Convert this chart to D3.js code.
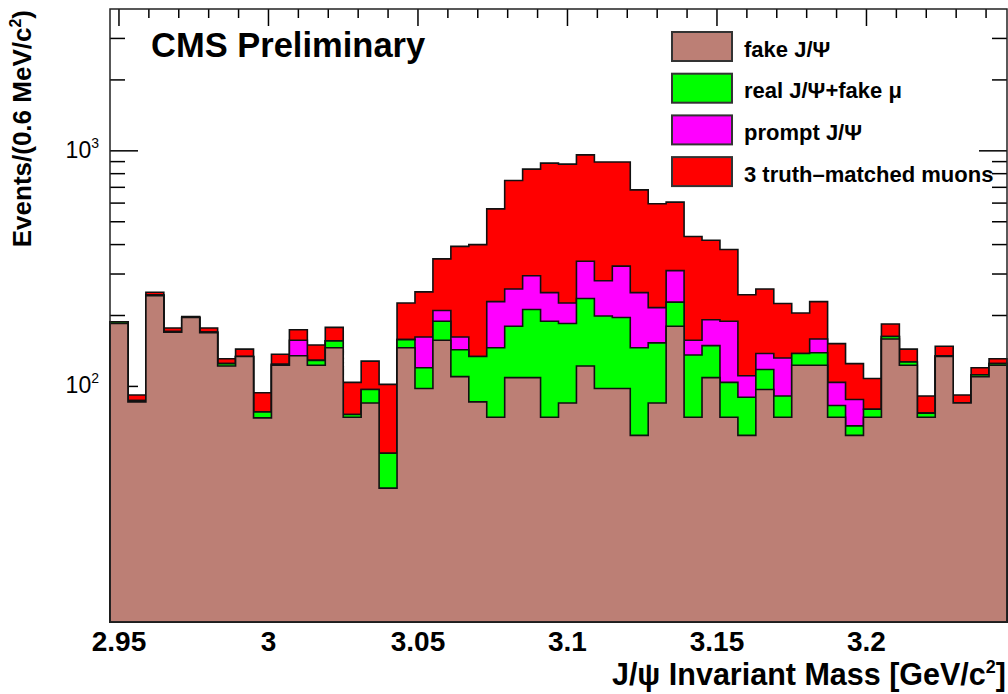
<!DOCTYPE html>
<html>
<head>
<meta charset="utf-8">
<script src="https://cdn.jsdelivr.net/npm/d3@7"></script>
<style>
  body { margin: 0; background: white; }
  text { font-family: 'Liberation Sans', Arial, Helvetica, sans-serif; }
</style>
</head>
<body>
<div id="visualization"></div>
<script>
// histogram binning: 50 bins of 6 MeV starting at 2.947 GeV
let xMin = 2.947
let binWidth = 0.006

// events per bin, one array per component (bottom of the stack first)
let fakeJpsi = [185, 86, 243, 170, 196, 169, 122, 134, 73.5, 123,
  135, 123, 146, 74, 85, 37, 146, 98, 157, 110,
  86, 74, 109, 109, 74, 85, 122, 98, 98, 62,
  85, 180, 74, 109, 74, 62, 97, 74, 123, 123,
  74, 62, 74, 159, 123, 74, 134, 85, 110, 123]
let realJpsiFakeMu = [3, 1, 1, 1, 0, 1, 3, 0, 4.5, 1,
  0, 6, 10, 2, 12, 15, 12, 22, 32, 33,
  48, 72, 71, 103, 115, 100, 114, 101, 98, 84,
  68, 48, 62, 40, 30, 28, 21, 17, 15, 16,
  9, 6, 6, 4, 4, 3, 1, 0, 2, 2]
let promptJpsi = [0, 0, 0, 0, 0, 0, 0, 0, 0, 0,
  22, 0, 0, 0, 0, 0, 0, 42, 21, 19,
  0, 83, 79, 83, 61, 41, 104, 82, 128, 104,
  63, 82, 21, 43, 85, 21, 20, 41, 0, 20,
  21, 20, 0, 0, 0, 0, 0, 0, 0, 0]
let truthMatched = [0, 5, 7, 6, 2, 7, 6, 10, 16, 13,
  17, 21, 22, 28, 31, 50, 68, 90, 138, 231,
  266, 338, 489, 541, 637, 652, 621, 615, 572, 433,
  380, 296, 276, 225, 192, 134, 121, 93, 67, 70,
  48, 37, 28, 21, 17, 14, 13, 7, 8, 6]

let seriesNames = ['fake J/\u03A8', 'real J/\u03A8+fake \u03BC', 'prompt J/\u03A8', '3 truth\u2013matched muons']
let seriesColors = ['#bc7f75', '#00ff00', '#ff00ff', '#ff0000']

let xTicks = [2.95, 3, 3.05, 3.1, 3.15, 3.2]
let xTickLabels = ['2.95', '3', '3.05', '3.1', '3.15', '3.2']
let yMajorTicks = [100, 1000]
let yTickExponents = ['2', '3']
let yMinorTicks = [20, 30, 40, 50, 60, 70, 80, 90, 200, 300, 400, 500, 600, 700, 800, 900, 2000, 3000]

let svgWidth = 1008
let svgHeight = 694
let plotLeft = 110, plotRight = 1007, plotTop = 9, plotBottom = 622

let svg = d3.select('#visualization').append('svg')
  .attr('width', svgWidth)
  .attr('height', svgHeight)

let x = d3.scaleLinear()
  .domain([xMin, xMin + binWidth * fakeJpsi.length])
  .range([plotLeft, plotRight])
let y = d3.scaleLog()
  .domain([10, 4000])
  .range([plotBottom, plotTop])

// ticks (drawn first so the histograms cover them, like in the original)
let xMinor = d3.range(295, 325).map(v => v / 100)
let ticks = svg.append('g').attr('stroke', 'black').attr('stroke-width', 1.5)
xMinor.forEach(v => {
  let major = xTicks.some(t => Math.abs(t - v) < 1e-6)
  let len = major ? 17 : 9
  ticks.append('line').attr('x1', x(v)).attr('x2', x(v)).attr('y1', plotTop).attr('y2', plotTop + len)
  ticks.append('line').attr('x1', x(v)).attr('x2', x(v)).attr('y1', plotBottom).attr('y2', plotBottom - len)
})
yMajorTicks.concat(yMinorTicks).forEach(v => {
  let len = yMajorTicks.includes(v) ? 28 : 15
  ticks.append('line').attr('x1', plotLeft).attr('x2', plotLeft + len).attr('y1', y(v)).attr('y2', y(v))
  ticks.append('line').attr('x1', plotRight).attr('x2', plotRight - len).attr('y1', y(v)).attr('y2', y(v))
})

// stacked histograms, cumulative, largest drawn first
let components = [fakeJpsi, realJpsiFakeMu, promptJpsi, truthMatched]
let cumulative = []
components.forEach((arr, k) => {
  cumulative.push(arr.map((v, i) => v + (k > 0 ? cumulative[k - 1][i] : 0)))
})

let area = d3.area()
  .x(d => x(d.x))
  .y0(plotBottom)
  .y1(d => y(d.v))
  .curve(d3.curveStepAfter)

for (let k = cumulative.length - 1; k >= 0; k--) {
  let c = cumulative[k]
  let pts = c.map((v, i) => ({ x: xMin + i * binWidth, v: v }))
  pts.push({ x: xMin + c.length * binWidth, v: c[c.length - 1] })
  svg.append('path')
    .attr('d', area(pts))
    .attr('fill', seriesColors[k])
    .attr('stroke', '#111')
    .attr('stroke-width', 1.6)
}

// frame
svg.append('rect')
  .attr('x', plotLeft)
  .attr('y', plotTop)
  .attr('width', plotRight - plotLeft)
  .attr('height', plotBottom - plotTop)
  .attr('fill', 'none')
  .attr('stroke', '#222')
  .attr('stroke-width', 1.5)

// x tick labels
svg.selectAll('.xlabel')
  .data(xTicks)
  .join('text')
  .attr('class', 'xlabel')
  .attr('x', d => x(d))
  .attr('y', 651)
  .attr('text-anchor', 'middle')
  .attr('font-size', 28)
  .attr('font-weight', 'bold')
  .text((d, i) => xTickLabels[i])

// y tick labels 10^n
yMajorTicks.forEach((v, i) => {
  let t = svg.append('text')
    .attr('x', 99)
    .attr('y', y(v) + 7)
    .attr('text-anchor', 'end')
    .attr('font-size', 23)
  t.append('tspan').text('10')
  t.append('tspan').attr('dy', -10).attr('font-size', 14).text(yTickExponents[i])
})

// axis titles
let xTitle = svg.append('text')
  .attr('x', 1006)
  .attr('y', 685)
  .attr('text-anchor', 'end')
  .attr('font-size', 30.5)
  .attr('font-weight', 'bold')
xTitle.append('tspan').text('J/\u03C8 Invariant Mass [GeV/c')
xTitle.append('tspan').attr('dy', -12).attr('font-size', 18).text('2')
xTitle.append('tspan').attr('dy', 12).text(']')

let yTitle = svg.append('text')
  .attr('transform', 'translate(31,10) rotate(-90)')
  .attr('text-anchor', 'end')
  .attr('font-size', 26)
  .attr('font-weight', 'bold')
yTitle.append('tspan').text('Events/(0.6 MeV/c')
yTitle.append('tspan').attr('dy', -10).attr('font-size', 16).text('2')
yTitle.append('tspan').attr('dy', 10).text(')')

// CMS label
svg.append('text')
  .attr('x', 151)
  .attr('y', 57)
  .attr('font-size', 34.5)
  .attr('font-weight', 'bold')
  .text('CMS Preliminary')

// legend
let legend = svg.selectAll('.legend')
  .data(seriesNames)
  .join('g')
  .attr('class', 'legend')
  .attr('transform', (d, i) => 'translate(672,' + (32 + i * 41.7) + ')')

legend.append('rect')
  .attr('width', 60)
  .attr('height', 29)
  .attr('fill', (d, i) => seriesColors[i])
  .attr('stroke', '#333')
  .attr('stroke-width', 2)

legend.append('text')
  .attr('x', 72)
  .attr('y', 24.5)
  .attr('font-size', 22)
  .attr('font-weight', 'bold')
  .text(d => d)
</script>
</body>
</html>
